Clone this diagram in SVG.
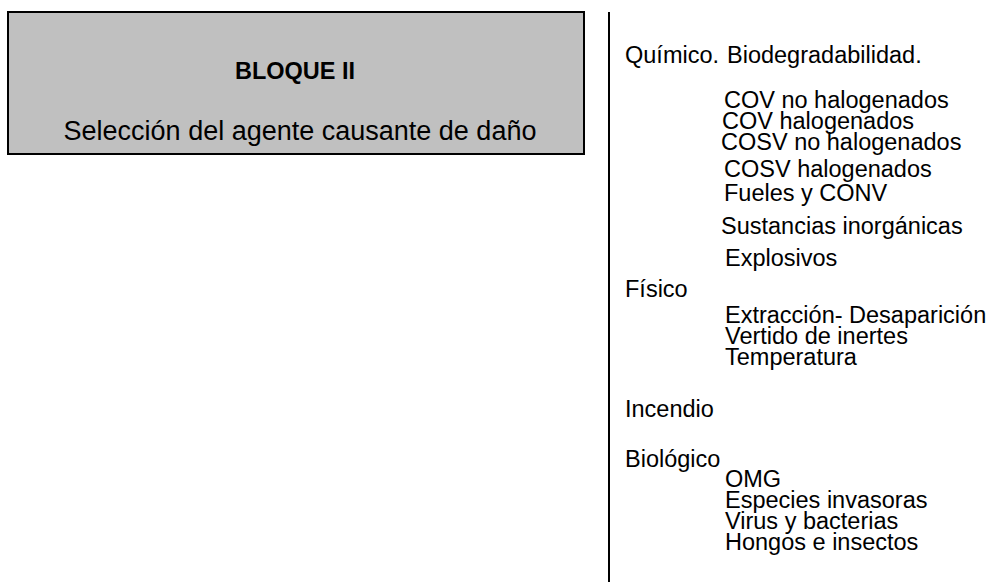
<svg xmlns="http://www.w3.org/2000/svg" width="990" height="582" viewBox="0 0 990 582">
<style>
  text { font-family: "Liberation Sans", Arial, sans-serif; fill: #000; }
  .item { font-size: 23.5px; }
</style>
<rect width="990" height="582" fill="#fff"/>
<g id="bloque">
  <rect x="8" y="12" width="576" height="142" fill="#c0c0c0" stroke="#000" stroke-width="2"/>
  <text x="295" y="79" font-size="23.5" font-weight="bold" text-anchor="middle">BLOQUE II</text>
  <text x="300" y="140" font-size="27" text-anchor="middle">Selección del agente causante de daño</text>
</g>
<g id="connectors">
  <line x1="609" y1="12" x2="609" y2="582" stroke="#000" stroke-width="2"/>
</g>
<g id="lista">
  <text class="item" x="625" y="63">Químico.</text>
  <text class="item" x="727" y="63">Biodegradabilidad.</text>
  <text class="item" x="724" y="108">COV no halogenados</text>
  <text class="item" x="722" y="129">COV halogenados</text>
  <text class="item" x="721" y="150">COSV no halogenados</text>
  <text class="item" x="724" y="177">COSV halogenados</text>
  <text class="item" x="724" y="201">Fueles y CONV</text>
  <text class="item" x="721" y="234">Sustancias inorgánicas</text>
  <text class="item" x="725" y="266">Explosivos</text>
  <text class="item" x="625" y="297">Físico</text>
  <text class="item" x="725" y="323">Extracción- Desaparición</text>
  <text class="item" x="725" y="344">Vertido de inertes</text>
  <text class="item" x="725" y="365">Temperatura</text>
  <text class="item" x="625" y="417">Incendio</text>
  <text class="item" x="625" y="467">Biológico</text>
  <text class="item" x="725" y="487">OMG</text>
  <text class="item" x="725" y="508">Especies invasoras</text>
  <text class="item" x="725" y="529">Virus y bacterias</text>
  <text class="item" x="725" y="550">Hongos e insectos</text>
</g>
</svg>
